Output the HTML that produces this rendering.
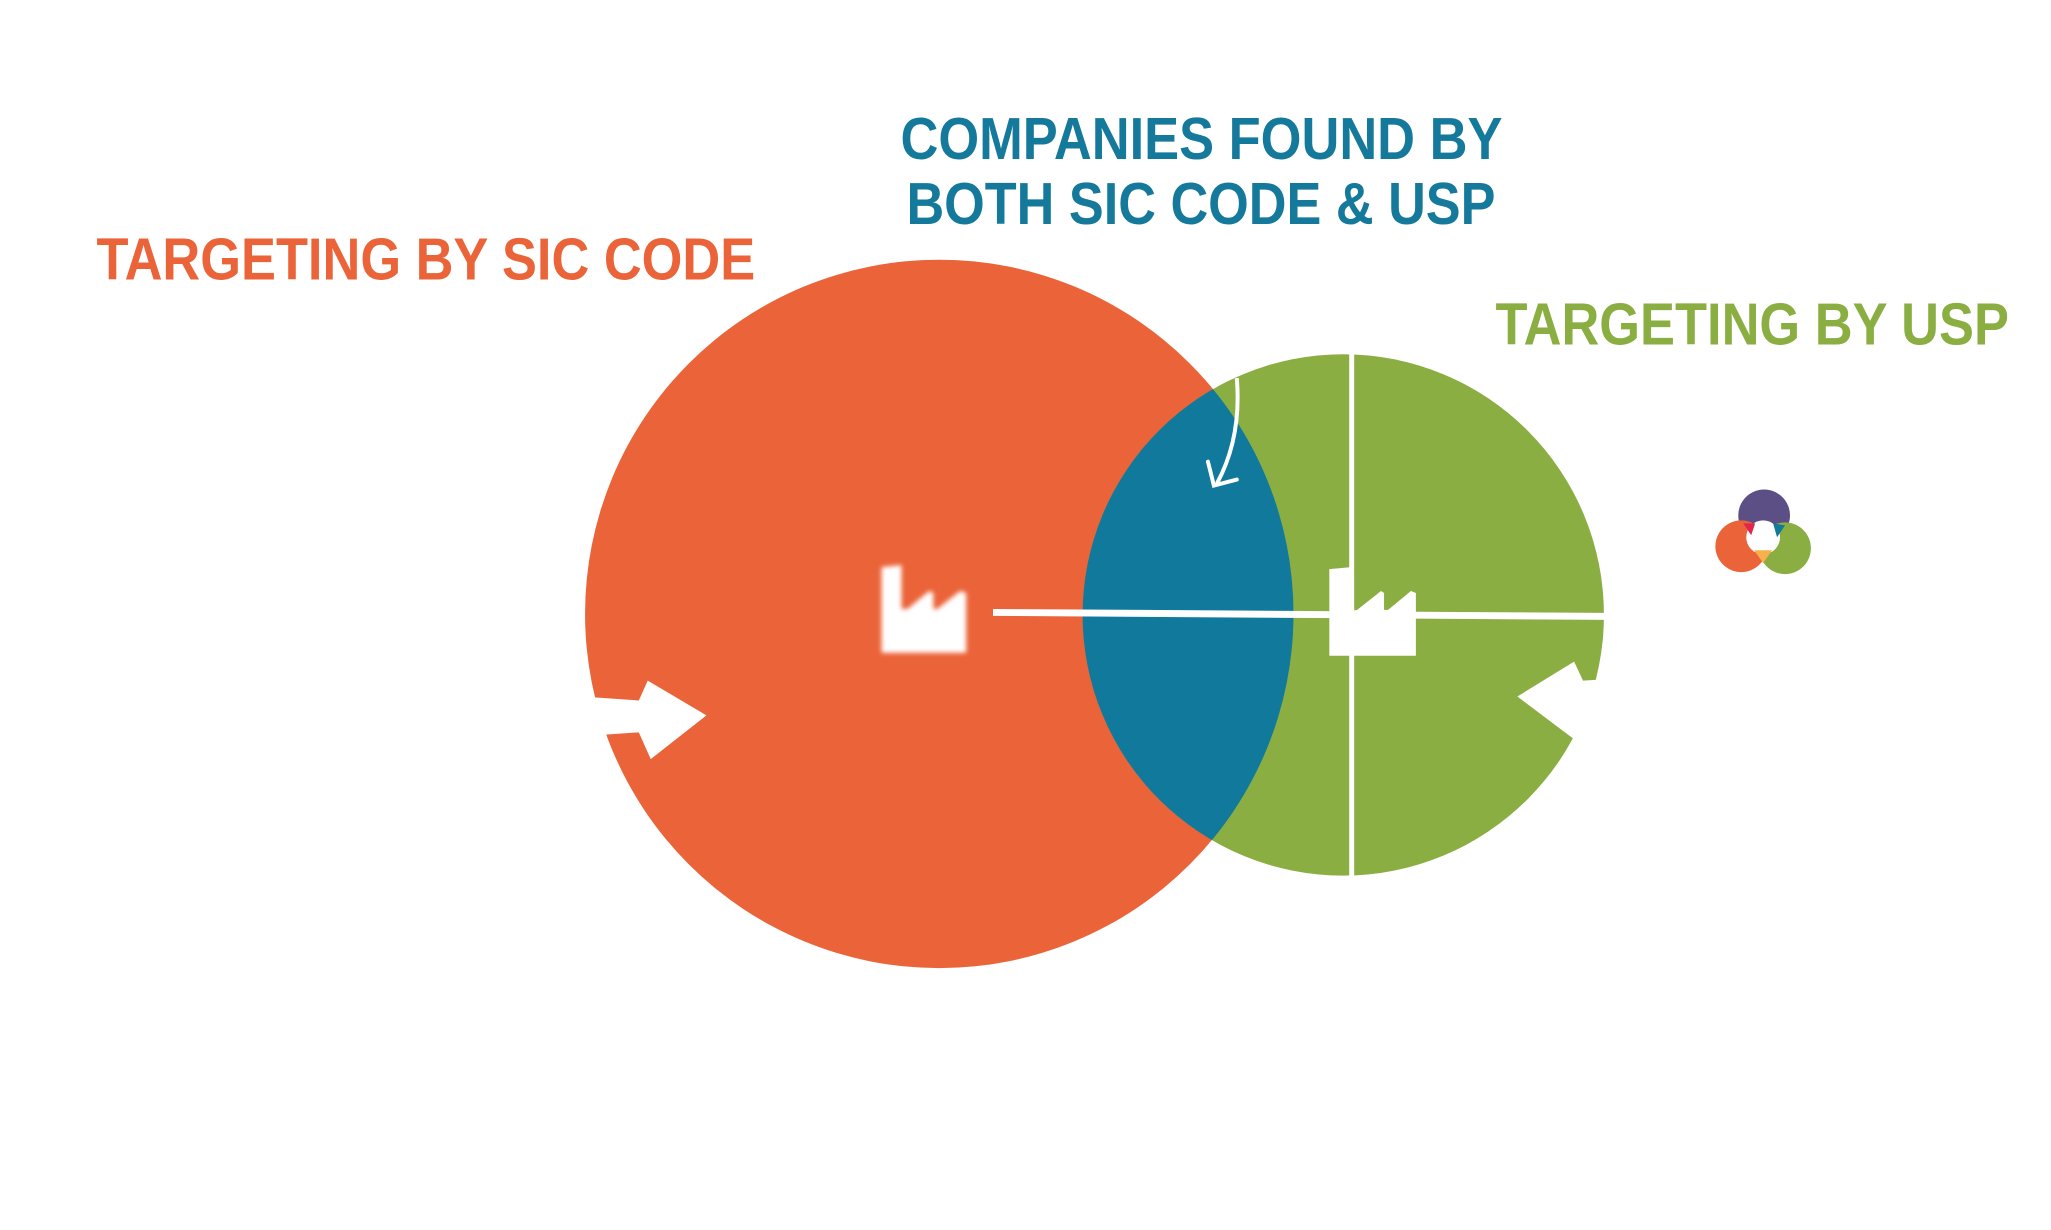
<!DOCTYPE html>
<html><head><meta charset="utf-8"><style>
html,body{margin:0;padding:0;background:#fff;}
svg{display:block;}
text{font-family:"Liberation Sans",sans-serif;font-weight:bold;}
</style></head><body>
<svg width="2051" height="1230" viewBox="0 0 2051 1230" xmlns="http://www.w3.org/2000/svg">
<defs>
<clipPath id="oc"><circle cx="944" cy="617" r="356"/></clipPath>
<filter id="bl"><feGaussianBlur stdDeviation="2.5"/></filter>
</defs>
<g transform="scale(0.995)">
<circle cx="944" cy="617" r="356" fill="#EB6338"/>
<circle cx="1350" cy="618" r="262" fill="#8AAE41"/>
<circle cx="1350" cy="618" r="262" fill="#10799C" clip-path="url(#oc)"/>
<rect x="1356" y="350" width="5" height="540" fill="#fff"/>
<polygon points="998,612 1614,616 1614,623 998,619" fill="#fff"/>
<path d="M1336,572 L1358,570 L1358,614 L1364,613 L1388,594 L1391,596 L1391,613 L1395,613 L1418,594 L1423,596 L1423,659 L1336,659 Z" fill="#fff"/>
<path d="M886,570 L906,568 L906,612 L912,612 L934,594 L938,596 L938,612 L942,612 L965,594 L971,596 L971,656 L886,656 Z" fill="#fff" filter="url(#bl)"/>
<path d="M1243,380 Q1248,440 1223,486" fill="none" stroke="#fff" stroke-width="4"/>
<path d="M1214,464 L1220,488 L1243,482" fill="none" stroke="#fff" stroke-width="4" stroke-linecap="round"/>
<polygon points="585,700 642,704 651,684 710,719 654,763 642,736 585,740" fill="#fff"/>
<polygon points="1525,700 1582,665 1591,684 1625,682 1625,720 1600,718 1582,743" fill="#fff"/>
<circle cx="1773" cy="518" r="26" fill="#5B4F86"/>
<circle cx="1750" cy="549" r="26" fill="#EB6338"/>
<circle cx="1794" cy="551" r="26" fill="#8AAE41"/>
<circle cx="1772" cy="540" r="17" fill="#fff"/>
<path d="M1752,526 L1764,526 L1760,538 Z" fill="#E2264B"/>
<path d="M1782,526 L1794,528 L1786,540 Z" fill="#10799C"/>
<path d="M1763,553 L1781,553 L1772,566 Z" fill="#F6B04C"/>
<text x="97" y="281" font-size="60" fill="#EB6338" textLength="662" lengthAdjust="spacingAndGlyphs">TARGETING BY SIC CODE</text>
<text x="905" y="160" font-size="60" fill="#14799B" textLength="605" lengthAdjust="spacingAndGlyphs">COMPANIES FOUND BY</text>
<text x="911" y="225" font-size="60" fill="#14799B" textLength="592" lengthAdjust="spacingAndGlyphs">BOTH SIC CODE &amp; USP</text>
<text x="1503" y="346" font-size="60" fill="#8AAE41" textLength="516" lengthAdjust="spacingAndGlyphs">TARGETING BY USP</text>
</g>
</svg>
</body></html>
